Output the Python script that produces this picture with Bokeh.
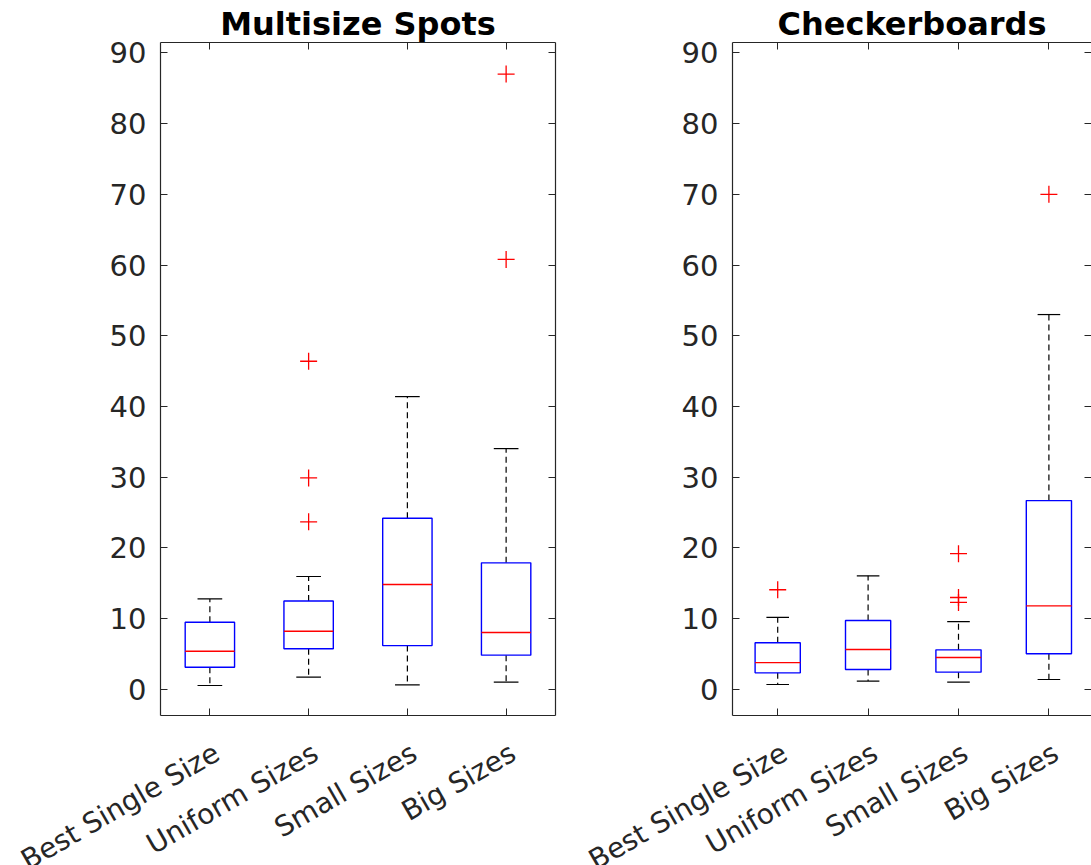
import math
from bokeh.plotting import figure
from bokeh.layouts import row
from bokeh.models import LinearAxis, FixedTicker, Range1d, CustomJSTickFormatter
from bokeh.embed import file_html
from bokeh.resources import INLINE

categories = ["Best Single Size", "Uniform Sizes", "Small Sizes", "Big Sizes"]
y_ticks = [0, 10, 20, 30, 40, 50, 60, 70, 80, 90]

# Multisize Spots
spots_q1 = [3.15, 5.75, 6.2, 4.85]
spots_median = [5.4, 8.24, 14.83, 8.05]
spots_q3 = [9.5, 12.5, 24.2, 17.9]
spots_lower = [0.56, 1.74, 0.66, 1.03]
spots_upper = [12.8, 15.97, 41.4, 34.05]
spots_out_cat = ["Uniform Sizes", "Uniform Sizes", "Uniform Sizes", "Big Sizes", "Big Sizes"]
spots_out_val = [46.4, 29.9, 23.7, 87.0, 60.8]

# Checkerboards
check_q1 = [2.35, 2.83, 2.45, 5.04]
check_median = [3.8, 5.65, 4.52, 11.82]
check_q3 = [6.6, 9.75, 5.6, 26.7]
check_lower = [0.7, 1.18, 1.04, 1.41]
check_upper = [10.2, 16.06, 9.6, 53.0]
check_out_cat = ["Best Single Size", "Small Sizes", "Small Sizes", "Small Sizes", "Big Sizes"]
check_out_val = [14.1, 19.2, 13.0, 12.3, 70.0]

AX = "#262626"
FONT = "DejaVu Sans"
BOX_HALF = 0.25
CAP_HALF = 0.125
Y_RANGE = (-3.68, 91.46)
LABEL_SHIFT_PX = 7

positions = [i + 1 for i in range(len(categories))]


def blank_axis(axis):
    axis.formatter = CustomJSTickFormatter(code="return ''")
    axis.major_label_text_font_size = "0px"
    axis.major_label_standoff = 0
    axis.major_tick_in = 7
    axis.major_tick_out = 0
    axis.minor_tick_line_color = None
    axis.axis_line_color = AX
    axis.major_tick_line_color = AX
    axis.axis_line_width = 1.2


def make_panel(title, q1, med, q3, lo, hi, out_cat, out_val,
               x_end, border_left, frame_width, border_right, right_line):
    p = figure(frame_width=frame_width, frame_height=673,
               min_border_left=border_left, min_border_right=border_right,
               min_border_top=42, min_border_bottom=150,
               x_range=Range1d(0.5, x_end), y_range=Range1d(*Y_RANGE),
               output_backend="svg", toolbar_location=None,
               x_axis_type=None, y_axis_type=None)
    p.outline_line_color = None
    p.xgrid.visible = False
    p.ygrid.visible = False
    p.background_fill_color = "white"
    p.border_fill_color = "white"

    p.title.text = title
    p.title.text_font = FONT
    p.title.text_font_size = "32px"
    p.title.text_font_style = "bold"
    p.title.text_color = "black"
    p.title.align = "center"
    p.title.standoff = 0

    # y axis left
    ya = LinearAxis(ticker=FixedTicker(ticks=y_ticks))
    ya.major_tick_in = 7
    ya.major_tick_out = 0
    ya.minor_tick_line_color = None
    ya.major_label_standoff = 14
    ya.major_label_text_font = FONT
    ya.major_label_text_font_size = "29px"
    ya.major_label_text_color = AX
    ya.axis_line_color = AX
    ya.major_tick_line_color = AX
    ya.axis_line_width = 1.2
    p.add_layout(ya, "left")

    # x axis below: ticks only
    xa = LinearAxis(ticker=FixedTicker(ticks=positions))
    blank_axis(xa)
    p.add_layout(xa, "below")

    # x axis below: rotated labels, anchored slightly right of each tick
    px_per_unit = frame_width / (x_end - 0.5)
    shift = LABEL_SHIFT_PX / px_per_unit
    xl = LinearAxis(ticker=FixedTicker(ticks=[x + shift for x in positions]))
    xl.formatter = CustomJSTickFormatter(
        args=dict(labels=categories, shift=shift),
        code="const i = Math.round(tick - shift) - 1; return (i >= 0 && i < labels.length) ? labels[i] : '';")
    xl.major_label_orientation = math.pi / 6
    xl.major_tick_line_color = None
    xl.minor_tick_line_color = None
    xl.axis_line_color = None
    xl.major_label_standoff = 29
    xl.major_label_text_font = FONT
    xl.major_label_text_font_size = "28px"
    xl.major_label_text_color = AX
    p.add_layout(xl, "below")

    ta = LinearAxis(ticker=FixedTicker(ticks=positions))
    blank_axis(ta)
    p.add_layout(ta, "above")

    ra = LinearAxis(ticker=FixedTicker(ticks=y_ticks))
    blank_axis(ra)
    if not right_line:
        ra.axis_line_color = None
    p.add_layout(ra, "right")

    xs = positions
    # whiskers
    p.segment(x0=xs, y0=q3, x1=xs, y1=hi, line_color="black", line_dash="6 4", line_width=1.2)
    p.segment(x0=xs, y0=q1, x1=xs, y1=lo, line_color="black", line_dash="6 4", line_width=1.2)
    # caps
    p.segment(x0=[x - CAP_HALF for x in xs], y0=hi, x1=[x + CAP_HALF for x in xs], y1=hi,
              line_color="black", line_width=1.2)
    p.segment(x0=[x - CAP_HALF for x in xs], y0=lo, x1=[x + CAP_HALF for x in xs], y1=lo,
              line_color="black", line_width=1.2)
    # boxes
    p.quad(left=[x - BOX_HALF for x in xs], right=[x + BOX_HALF for x in xs],
           bottom=q1, top=q3, fill_color=None, line_color="#0000ff", line_width=1.4)
    # medians
    p.segment(x0=[x - BOX_HALF for x in xs], y0=med, x1=[x + BOX_HALF for x in xs], y1=med,
              line_color="#ff0000", line_width=1.4)
    # outliers
    ox = [positions[categories.index(c)] for c in out_cat]
    p.scatter(x=ox, y=out_val, marker="cross", size=17, line_color="#ff0000", line_width=1.3)
    return p


p1 = make_panel("Multisize Spots", spots_q1, spots_median, spots_q3, spots_lower, spots_upper,
                spots_out_cat, spots_out_val, 4.5, 160, 395, 5, True)
p2 = make_panel("Checkerboards", check_q1, check_median, check_q3, check_lower, check_upper,
                check_out_cat, check_out_val, 0.5 + 359 / 90.4, 172, 359, 0, False)

layout = row(p1, p2)
open("out.html", "w").write(file_html(layout, INLINE))
